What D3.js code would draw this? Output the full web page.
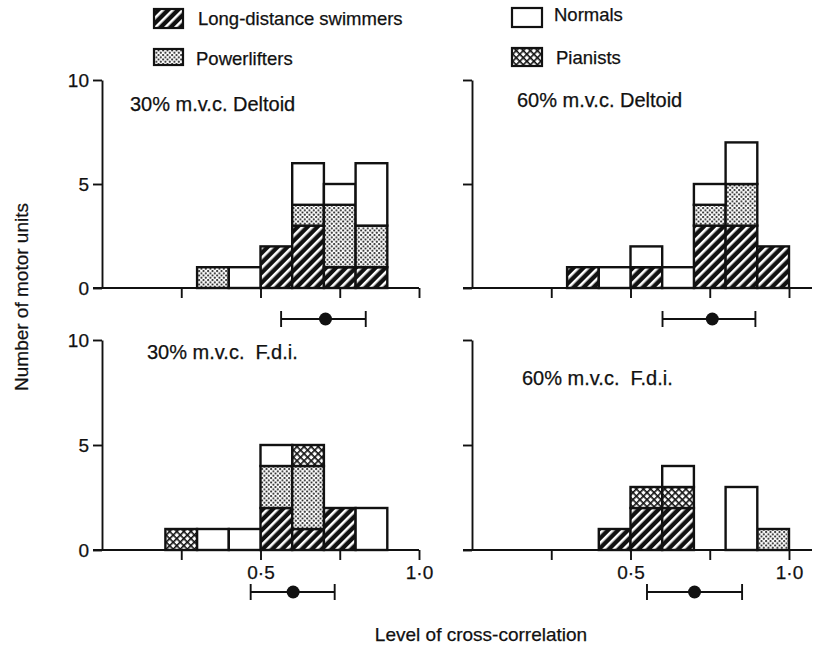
<!DOCTYPE html>
<html>
<head>
<meta charset="utf-8">
<script src="https://cdn.jsdelivr.net/npm/d3@7"></script>
<style>
  body { margin: 0; background: #fff; }
  svg { display: block; }
  text { font-family: "Liberation Sans", Arial, sans-serif; fill: #111; stroke: #111; stroke-width: 0.25px; }
</style>
</head>
<body>
<div id="chart"></div>
<script>
// bins are 0.1 wide, labelled by their lower edge
const binStarts = [0.2, 0.3, 0.4, 0.5, 0.6, 0.7, 0.8, 0.9];
const groupKeys = ["swimmers", "powerlifters", "pianists", "normals"];
const groupNames = ["Long-distance swimmers", "Powerlifters", "Pianists", "Normals"];

// counts per bin, rows in groupKeys order
const deltoid30Counts = [
  [0, 0, 0, 2, 3, 1, 1, 0],
  [0, 1, 0, 0, 1, 3, 2, 0],
  [0, 0, 0, 0, 0, 0, 0, 0],
  [0, 0, 1, 0, 2, 1, 3, 0],
];
const deltoid60Counts = [
  [0, 1, 0, 1, 0, 3, 3, 2],
  [0, 0, 0, 0, 0, 1, 2, 0],
  [0, 0, 0, 0, 0, 0, 0, 0],
  [0, 0, 1, 1, 1, 1, 2, 0],
];
const fdi30Counts = [
  [0, 0, 0, 2, 1, 2, 0, 0],
  [0, 0, 0, 2, 3, 0, 0, 0],
  [1, 0, 0, 0, 1, 0, 0, 0],
  [0, 1, 1, 1, 0, 0, 2, 0],
];
const fdi60Counts = [
  [0, 0, 1, 2, 2, 0, 0, 0],
  [0, 0, 0, 0, 0, 0, 0, 1],
  [0, 0, 0, 1, 1, 0, 0, 0],
  [0, 0, 0, 0, 1, 0, 3, 0],
];

const panelTitles = ["30% m.v.c. Deltoid", "60% m.v.c. Deltoid", "30% m.v.c.  F.d.i.", "60% m.v.c.  F.d.i."];
const meanLevel = [0.705, 0.758, 0.603, 0.702];
const sdLow = [0.565, 0.601, 0.469, 0.552];
const sdHigh = [0.832, 0.894, 0.734, 0.852];

const yTicks = [0, 5, 10];
const xTicks = [0.25, 0.5, 0.75, 1.0];
const xTickLabels = { 0.5: "0·5", 1: "1·0" };

const width = 825;
const height = 646;
const ink = "#111";

const svg = d3
  .select("#chart")
  .append("svg")
  .attr("width", width)
  .attr("height", height);

svg.append("rect").attr("width", width).attr("height", height).attr("fill", "#fff");

// fill patterns
const defs = svg.append("defs");

const hatch = defs
  .append("pattern")
  .attr("id", "fill-swimmers")
  .attr("patternUnits", "userSpaceOnUse")
  .attr("width", 7)
  .attr("height", 7)
  .attr("patternTransform", "rotate(45)");
hatch.append("rect").attr("width", 7).attr("height", 7).attr("fill", ink);
hatch.append("rect").attr("x", 2).attr("width", 2.6).attr("height", 7).attr("fill", "#fff");

const dots = defs
  .append("pattern")
  .attr("id", "fill-powerlifters")
  .attr("patternUnits", "userSpaceOnUse")
  .attr("width", 4.5)
  .attr("height", 4.5);
dots.append("rect").attr("width", 4.5).attr("height", 4.5).attr("fill", "#fff");
dots.append("circle").attr("cx", 1.1).attr("cy", 1.1).attr("r", 1).attr("fill", ink);
dots.append("circle").attr("cx", 3.35).attr("cy", 3.35).attr("r", 1).attr("fill", ink);

const cross = defs
  .append("pattern")
  .attr("id", "fill-pianists")
  .attr("patternUnits", "userSpaceOnUse")
  .attr("width", 5)
  .attr("height", 5)
  .attr("patternTransform", "rotate(45)");
cross.append("rect").attr("width", 5).attr("height", 5).attr("fill", "#fff");
cross.append("rect").attr("width", 5).attr("height", 1.6).attr("fill", ink);
cross.append("rect").attr("width", 1.6).attr("height", 5).attr("fill", ink);

const fills = {
  swimmers: "url(#fill-swimmers)",
  powerlifters: "url(#fill-powerlifters)",
  pianists: "url(#fill-pianists)",
  normals: "#fff",
};

// legend
const legendItems = [
  { key: "swimmers", x: 154, y: 9, w: 29, h: 19, tx: 198, ty: 25 },
  { key: "powerlifters", x: 154, y: 49, w: 29, h: 16, tx: 196, ty: 65 },
  { key: "normals", x: 512, y: 8, w: 30, h: 19, tx: 554, ty: 21 },
  { key: "pianists", x: 512, y: 48, w: 30, h: 18, tx: 556, ty: 64 },
];
const legend = svg.append("g");
legendItems.forEach((item) => {
  legend
    .append("rect")
    .attr("x", item.x)
    .attr("y", item.y)
    .attr("width", item.w)
    .attr("height", item.h)
    .attr("fill", fills[item.key])
    .attr("stroke", ink)
    .attr("stroke-width", 2.2);
  legend
    .append("text")
    .attr("x", item.tx)
    .attr("y", item.ty)
    .attr("font-size", 18.5)
    .text(groupNames[groupKeys.indexOf(item.key)]);
});

const panels = [
  { counts: deltoid30Counts, x0: 102, x1: 419, base: 288, top: 80, axisEnd: 419, yLabels: true, xLabels: false, tx: 130, ty: 111, errY: 319 },
  { counts: deltoid60Counts, x0: 472, x1: 789, base: 288, top: 80, axisEnd: 812, yLabels: false, xLabels: false, tx: 517, ty: 107, errY: 319 },
  { counts: fdi30Counts, x0: 102, x1: 419, base: 550, top: 340, axisEnd: 419, yLabels: true, xLabels: true, tx: 147, ty: 359, errY: 592 },
  { counts: fdi60Counts, x0: 472, x1: 789, base: 550, top: 340, axisEnd: 812, yLabels: false, xLabels: true, tx: 522, ty: 385, errY: 592 },
];

panels.forEach((panel, i) => drawPanel(panel, i));

function drawPanel(panel, i) {
  const x = d3.scaleLinear().domain([0, 1]).range([panel.x0, panel.x1]);
  const y = d3.scaleLinear().domain([0, 10]).range([panel.base, panel.top]);

  const rows = binStarts.map((bin, b) => {
    const row = { bin };
    groupKeys.forEach((key, g) => {
      row[key] = panel.counts[g][b];
    });
    return row;
  });
  const series = d3.stack().keys(groupKeys)(rows);

  const g = svg.append("g");

  series.forEach((layer) => {
    g.append("g")
      .selectAll("rect")
      .data(layer.filter((d) => d[1] > d[0]))
      .enter()
      .append("rect")
      .attr("x", (d) => x(d.data.bin))
      .attr("width", (d) => x(d.data.bin + 0.1) - x(d.data.bin))
      .attr("y", (d) => y(d[1]))
      .attr("height", (d) => y(d[0]) - y(d[1]))
      .attr("fill", fills[layer.key])
      .attr("stroke", ink)
      .attr("stroke-width", 2.4);
  });

  // y axis
  const yAxis = g
    .append("g")
    .attr("transform", `translate(${panel.x0},0)`)
    .call(
      d3
        .axisLeft(y)
        .tickValues(yTicks)
        .tickSize(9)
        .tickSizeOuter(0)
        .tickPadding(4)
        .tickFormat((v) => (panel.yLabels ? String(v) : ""))
    );

  // x axis: ticks below, baseline drawn separately
  const xAxis = g
    .append("g")
    .attr("transform", `translate(0,${panel.base})`)
    .call(
      d3
        .axisBottom(x)
        .tickValues(xTicks)
        .tickSize(10)
        .tickSizeOuter(0)
        .tickPadding(6)
        .tickFormat((v) => (panel.xLabels ? xTickLabels[v] || "" : ""))
    );
  xAxis.select(".domain").remove();

  g.append("line")
    .attr("x1", panel.x0 - 9)
    .attr("x2", panel.axisEnd)
    .attr("y1", panel.base)
    .attr("y2", panel.base)
    .attr("stroke", ink)
    .attr("stroke-width", 1.9);

  [yAxis, xAxis].forEach((axis) => {
    axis.selectAll(".domain, .tick line").attr("stroke", ink).attr("stroke-width", 1.9);
    axis.selectAll("text").attr("font-size", 19).attr("fill", ink).attr("font-family", "Liberation Sans, Arial, sans-serif");
  });

  g.append("text")
    .attr("x", panel.tx)
    .attr("y", panel.ty)
    .attr("font-size", 20)
    .style("white-space", "pre")
    .text(panelTitles[i]);

  // mean +/- s.d.
  const err = g.append("g");
  err
    .append("line")
    .attr("x1", x(sdLow[i]))
    .attr("x2", x(sdHigh[i]))
    .attr("y1", panel.errY)
    .attr("y2", panel.errY)
    .attr("stroke", ink)
    .attr("stroke-width", 1.9);
  [sdLow[i], sdHigh[i]].forEach((v) => {
    err
      .append("line")
      .attr("x1", x(v))
      .attr("x2", x(v))
      .attr("y1", panel.errY - 8)
      .attr("y2", panel.errY + 8)
      .attr("stroke", ink)
      .attr("stroke-width", 1.9);
  });
  err
    .append("circle")
    .attr("cx", x(meanLevel[i]))
    .attr("cy", panel.errY)
    .attr("r", 6.5)
    .attr("fill", ink);
}

svg
  .append("text")
  .attr("transform", "translate(28,297) rotate(-90)")
  .attr("text-anchor", "middle")
  .attr("font-size", 19)
  .text("Number of motor units");

svg
  .append("text")
  .attr("x", 481)
  .attr("y", 641)
  .attr("text-anchor", "middle")
  .attr("font-size", 19)
  .text("Level of cross-correlation");
</script>
</body>
</html>
